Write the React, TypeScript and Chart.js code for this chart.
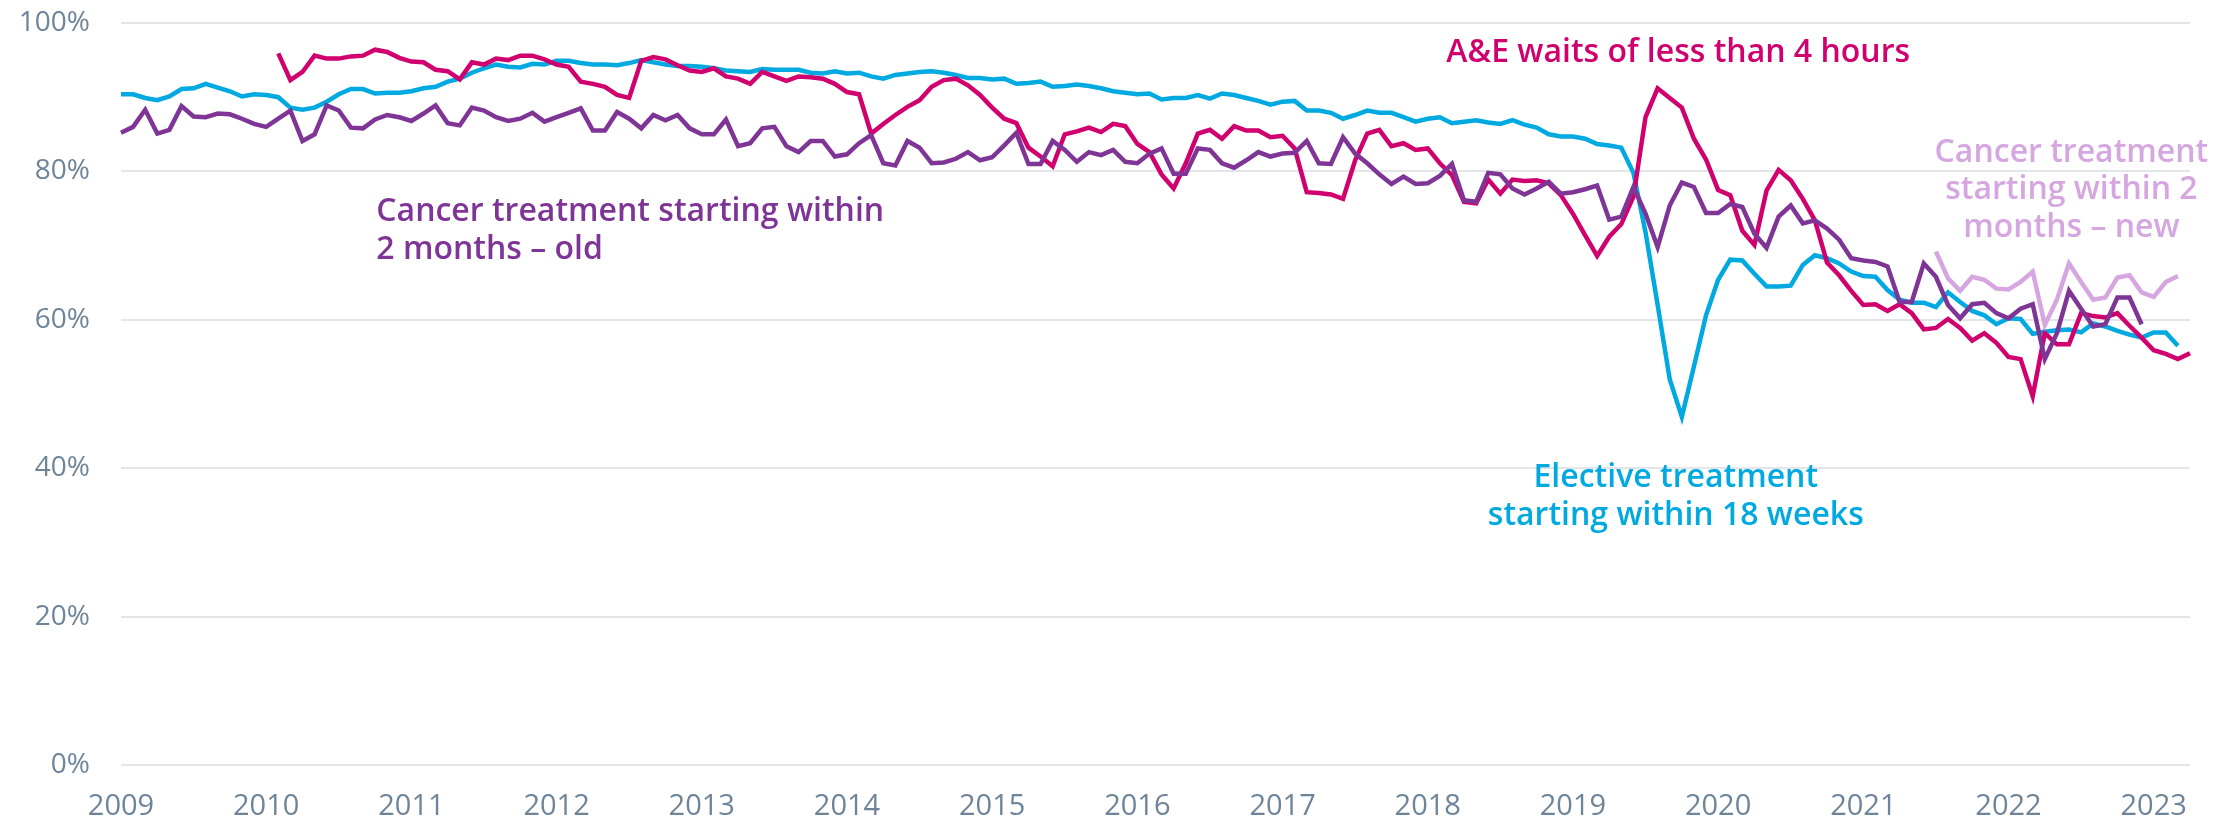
import React, { useEffect, useRef } from 'react';
import { Chart, registerables } from 'chart.js';

Chart.register(...registerables);

// ---- Data -----------------------------------------------------------------
const yearLabels = ['2009', '2010', '2011', '2012', '2013', '2014', '2015', '2016', '2017', '2018', '2019', '2020', '2021', '2022', '2023'];
const monthNames = ['Jan', 'Feb', 'Mar', 'Apr', 'May', 'Jun', 'Jul', 'Aug', 'Sep', 'Oct', 'Nov', 'Dec'];
const monthCount = 172; // Jan 2009 .. Apr 2023

// Elective treatment starting within 18 weeks (from first month)
const electiveStart = 0;
const electiveValues = [
  90.4, 90.4, 89.9, 89.6, 90.1, 91.1, 91.2, 91.8, 91.3, 90.8, 90.1, 90.4,
  90.3, 90.0, 88.6, 88.3, 88.6, 89.4, 90.4, 91.1, 91.1, 90.5, 90.6, 90.6,
  90.8, 91.2, 91.4, 92.1, 92.5, 93.3, 93.9, 94.4, 94.1, 94.0, 94.5, 94.4,
  94.9, 94.9, 94.6, 94.4, 94.4, 94.3, 94.6, 95.0, 94.7, 94.4, 94.2, 94.2,
  94.1, 93.9, 93.6, 93.5, 93.4, 93.8, 93.7, 93.7, 93.7, 93.3, 93.2, 93.5,
  93.2, 93.3, 92.8, 92.5, 93.0, 93.2, 93.4, 93.5, 93.3, 93.0, 92.6, 92.6,
  92.4, 92.5, 91.8, 91.9, 92.1, 91.4, 91.5, 91.7, 91.5, 91.2, 90.8, 90.6,
  90.4, 90.5, 89.7, 89.9, 89.9, 90.3, 89.8, 90.5, 90.3, 89.9, 89.5, 89.0,
  89.4, 89.5, 88.2, 88.2, 87.9, 87.1, 87.6, 88.2, 87.9, 87.9, 87.3, 86.7,
  87.1, 87.3, 86.5, 86.7, 86.9, 86.6, 86.4, 86.9, 86.3, 85.9, 85.0, 84.7,
  84.7, 84.4, 83.7, 83.5, 83.2, 79.8, 71.8, 62.0, 52.0, 46.9, 53.7, 60.6,
  65.4, 68.1, 68.0, 66.2, 64.5, 64.5, 64.6, 67.4, 68.7, 68.3, 67.6, 66.5,
  65.9, 65.8, 64.0, 62.7, 62.3, 62.3, 61.7, 63.7, 62.4, 61.2, 60.6, 59.4,
  60.2, 60.1, 58.1, 58.4, 58.6, 58.7, 58.3, 59.5, 59.1, 58.5, 58.0, 57.6,
  58.3, 58.3, 56.5,
];

// A&E waits of less than 4 hours
const aeStart = 13;
const aeValues = [
  95.9, 92.3, 93.4, 95.6, 95.2, 95.2, 95.5, 95.6, 96.4, 96.1, 95.3,
  94.8, 94.7, 93.7, 93.5, 92.4, 94.7, 94.4, 95.2, 95.0, 95.6, 95.6, 95.1,
  94.4, 94.1, 92.1, 91.8, 91.4, 90.3, 89.9, 94.9, 95.4, 95.1, 94.3, 93.6,
  93.4, 93.9, 92.8, 92.5, 91.8, 93.4, 92.8, 92.2, 92.8, 92.7, 92.5, 91.8,
  90.7, 90.4, 85.1, 86.4, 87.6, 88.7, 89.6, 91.4, 92.3, 92.5, 91.6, 90.3,
  88.6, 87.1, 86.5, 83.2, 82.0, 80.7, 85.0, 85.4, 85.9, 85.3, 86.4, 86.1,
  83.7, 82.6, 79.6, 77.7, 81.1, 85.1, 85.6, 84.4, 86.1, 85.5, 85.5, 84.6,
  84.8, 83.1, 77.2, 77.1, 76.9, 76.3, 81.5, 85.1, 85.6, 83.4, 83.8, 82.9,
  83.1, 81.1, 79.5, 75.9, 75.7, 78.9, 77.0, 78.9, 78.7, 78.8, 78.4, 76.8,
  74.3, 71.4, 68.6, 71.2, 72.9, 76.6, 87.3, 91.2, 89.9, 88.6, 84.4, 81.6,
  77.5, 76.8, 72.0, 70.1, 77.4, 80.2, 78.8, 76.3, 73.4, 67.7, 66.0, 63.9,
  62.0, 62.1, 61.2, 62.1, 60.9, 58.7, 58.9, 60.1, 58.9, 57.2, 58.2, 56.9,
  55.0, 54.7, 49.7, 58.2, 56.7, 56.7, 60.9, 60.5, 60.3, 60.9, 59.2, 57.6,
  55.9, 55.4, 54.7, 55.5,
];

// Cancer treatment starting within 2 months – old standard
const cancerOldStart = 0;
const cancerOldValues = [
  85.2, 86.0, 88.3, 85.1, 85.6, 88.8, 87.4, 87.3, 87.8, 87.7, 87.1, 86.4,
  86.0, 87.1, 88.2, 84.1, 85.0, 88.9, 88.2, 85.9, 85.8, 87.0, 87.6, 87.3,
  86.8, 87.8, 88.9, 86.5, 86.2, 88.6, 88.2, 87.3, 86.8, 87.1, 87.9, 86.7,
  87.3, 87.9, 88.5, 85.5, 85.5, 88.0, 87.1, 85.8, 87.6, 86.9, 87.6, 85.8,
  85.0, 85.0, 87.0, 83.4, 83.8, 85.8, 86.0, 83.4, 82.6, 84.1, 84.1, 82.0,
  82.3, 83.8, 84.9, 81.1, 80.8, 84.1, 83.2, 81.1, 81.2, 81.7, 82.6, 81.5,
  81.9, 83.5, 85.2, 81.0, 81.0, 84.1, 82.9, 81.3, 82.6, 82.2, 82.9, 81.3,
  81.1, 82.4, 83.1, 79.7, 79.7, 83.1, 82.9, 81.1, 80.5, 81.5, 82.6, 82.0,
  82.4, 82.5, 84.1, 81.1, 81.0, 84.6, 82.4, 81.1, 79.6, 78.3, 79.3, 78.3,
  78.4, 79.4, 81.0, 76.1, 75.9, 79.8, 79.6, 77.7, 76.9, 77.7, 78.6, 77.0,
  77.2, 77.6, 78.1, 73.5, 73.9, 77.9, 74.3, 69.8, 75.4, 78.5, 77.9, 74.4,
  74.4, 75.6, 75.2, 71.6, 69.7, 73.9, 75.4, 73.0, 73.4, 72.3, 70.8, 68.3,
  68.0, 67.8, 67.2, 62.4, 62.4, 67.6, 65.8, 62.0, 60.2, 62.1, 62.3, 60.9,
  60.2, 61.5, 62.1, 54.7, 58.2, 63.9, 61.5, 59.1, 59.4, 63.0, 63.0, 59.4,
];

// Cancer treatment starting within 2 months – new standard
const cancerNewStart = 150;
const cancerNewValues = [
  69.2, 65.6, 63.9, 65.8, 65.4, 64.2, 64.1, 65.1, 66.5, 59.3, 62.7, 67.6,
  65.1, 62.7, 63.0, 65.7, 66.0, 63.7, 63.1, 65.1, 65.9,
];

// ---- Styles ---------------------------------------------------------------
const ELECTIVE = '#00A9E0';
const AE = '#D0006F';
const CANCER_OLD = '#7F3596';
const CANCER_NEW = '#D6A6E1';
const TICK = '#6E8499';
const GRID = '#E2E6EA';
const FONT = '"Open Sans", "Noto Sans", sans-serif';

const W = 2237;
const H = 823;

const months: string[] = [];
for (let i = 0; i < monthCount; i++) {
  months.push(`${monthNames[i % 12]} ${Number(yearLabels[0]) + Math.floor(i / 12)}`);
}

function place(start: number, values: number[]): (number | null)[] {
  const out: (number | null)[] = new Array(monthCount).fill(null);
  values.forEach((v, k) => {
    out[start + k] = v;
  });
  return out;
}

type Note = { lines: string[]; x: number; y: number; align: CanvasTextAlign; color: string };
const notes: Note[] = [
  { lines: ['A&E waits of less than 4 hours'], x: 128.7, y: 94.75, align: 'center', color: AE },
  { lines: ['Cancer treatment starting within', '2 months – old'], x: 21.1, y: 73.3, align: 'left', color: CANCER_OLD },
  { lines: ['Elective treatment', 'starting within 18 weeks'], x: 128.5, y: 37.4, align: 'center', color: ELECTIVE },
  { lines: ['Cancer treatment', 'starting within 2', 'months – new'], x: 161.2, y: 81.3, align: 'center', color: CANCER_NEW },
];
const NOTE_FONT_SIZE = 32;
const NOTE_LINE = 37.7;

const notesPlugin = {
  id: 'notes',
  afterDatasetsDraw(chart: any) {
    const { ctx, scales } = chart;
    ctx.save();
    ctx.font = `600 ${NOTE_FONT_SIZE}px ${FONT}`;
    ctx.textBaseline = 'alphabetic';
    notes.forEach((n) => {
      const px = scales.x.getPixelForValue(n.x);
      const py = scales.y.getPixelForValue(n.y);
      ctx.fillStyle = n.color;
      ctx.textAlign = n.align;
      n.lines.forEach((line, k) => ctx.fillText(line, px, py + k * NOTE_LINE));
    });
    ctx.restore();
  },
};

export default function App() {
  const ref = useRef<HTMLCanvasElement>(null);

  useEffect(() => {
    document.body.style.margin = '0';
    const canvas = ref.current;
    if (!canvas) return;
    const lineStyle = { borderWidth: 4.5, pointRadius: 0, tension: 0, fill: false, spanGaps: false };
    const chart = new Chart(canvas, {
      type: 'line',
      data: {
        labels: months,
        datasets: [
          { label: 'Elective treatment starting within 18 weeks', data: place(electiveStart, electiveValues), borderColor: ELECTIVE, backgroundColor: ELECTIVE, order: 4, ...lineStyle },
          { label: 'A&E waits of less than 4 hours', data: place(aeStart, aeValues), borderColor: AE, backgroundColor: AE, order: 3, ...lineStyle },
          { label: 'Cancer treatment starting within 2 months – old', data: place(cancerOldStart, cancerOldValues), borderColor: CANCER_OLD, backgroundColor: CANCER_OLD, order: 2, ...lineStyle },
          { label: 'Cancer treatment starting within 2 months – new', data: place(cancerNewStart, cancerNewValues), borderColor: CANCER_NEW, backgroundColor: CANCER_NEW, order: 1, ...lineStyle },
        ],
      },
      options: {
        responsive: false,
        animation: false,
        devicePixelRatio: 1,
        layout: { padding: { top: 23, right: 47, left: 0, bottom: 0 } },
        plugins: { legend: { display: false }, tooltip: { enabled: false } },
        scales: {
          x: {
            type: 'category',
            grid: { display: false, drawTicks: false },
            border: { display: false },
            ticks: {
              autoSkip: false,
              maxRotation: 0,
              minRotation: 0,
              padding: 24,
              color: TICK,
              font: { family: FONT, size: 29 },
              callback: (_v: any, i: number) => (i % 12 === 0 ? yearLabels[i / 12] : ''),
            },
            afterFit: (s: any) => {
              s.height = 58;
            },
          },
          y: {
            min: 0,
            max: 100,
            grid: { color: GRID, lineWidth: 2, drawTicks: false },
            border: { display: false },
            ticks: {
              stepSize: 20,
              padding: 31,
              color: TICK,
              font: { family: FONT, size: 28 },
              callback: (v: any) => `${v}%`,
            },
            afterFit: (s: any) => {
              s.width = 121;
              s.paddingTop = 0;
              s.paddingBottom = 0;
            },
          },
        },
      },
      plugins: [notesPlugin],
    });
    return () => chart.destroy();
  }, []);

  return <canvas ref={ref} width={W} height={H} style={{ display: 'block', width: W, height: H }} />;
}
